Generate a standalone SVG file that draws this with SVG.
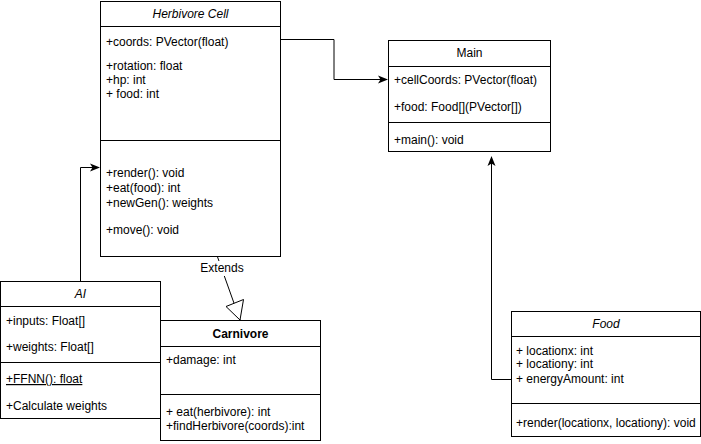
<svg xmlns="http://www.w3.org/2000/svg" width="701" height="444" viewBox="0 0 701 444">
<style>
.box{fill:#fff;stroke:#000;stroke-width:1}
.ln{stroke:#000;stroke-width:1;fill:none}
text{font-family:"Liberation Sans",Arial,Helvetica,sans-serif;font-size:12px;fill:#000}
.t{text-anchor:middle}
.i{font-style:italic}
.b{font-weight:bold}
</style>
<defs>
<marker id="arr" viewBox="0 0 10 10" refX="9" refY="5" markerWidth="10" markerHeight="10" markerUnits="userSpaceOnUse" orient="auto">
<path d="M0,1 L10,5 L0,9 L2.5,5 Z" fill="#000"/>
</marker>
</defs>
<rect width="701" height="444" fill="#fff"/>
<g id="connectors">
<path class="ln" d="M281,39.5 H334 V79.5 H387" marker-end="url(#arr)"/>
<path class="ln" d="M511,379.5 H491.5 V157" marker-end="url(#arr)"/>
<path class="ln" d="M80.5,281 V167.5 H99" marker-end="url(#arr)"/>
<path class="ln" d="M204,219 L240,320"/>
<path class="box" d="M240,320 L226,306.5 L243.5,299.5 Z"/>
<rect x="196" y="261" width="52" height="15" fill="#fff"/>
<text class="t" x="222" y="272">Extends</text>
</g>
<g id="herbivore">
<rect class="box" x="100.5" y="1.5" width="180" height="255"/>
<line class="ln" x1="100.5" y1="26.5" x2="280.5" y2="26.5"/>
<line class="ln" x1="100.5" y1="140.5" x2="280.5" y2="140.5"/>
<text class="t i" x="190.5" y="18">Herbivore Cell</text>
<text x="106" y="46">+coords: PVector(float)</text>
<text x="106" y="70">+rotation: float</text>
<text x="106" y="84">+hp: int</text>
<text x="106" y="98">+ food: int</text>
<text x="106" y="177">+render(): void</text>
<text x="106" y="192">+eat(food): int</text>
<text x="106" y="207">+newGen(): weights</text>
<text x="106" y="234">+move(): void</text>
</g>
<g id="main">
<rect class="box" x="388.5" y="40.5" width="162" height="111"/>
<line class="ln" x1="388.5" y1="66.5" x2="550.5" y2="66.5"/>
<line class="ln" x1="388.5" y1="122.5" x2="550.5" y2="122.5"/>
<text class="t" x="469.5" y="57">Main</text>
<text x="394" y="84">+cellCoords: PVector(float)</text>
<text x="394" y="111">+food: Food[](PVector[])</text>
<text x="394" y="144">+main(): void</text>
</g>
<g id="ai">
<rect class="box" x="0.5" y="281.5" width="160" height="137"/>
<line class="ln" x1="0.5" y1="306.5" x2="160.5" y2="306.5"/>
<line class="ln" x1="0.5" y1="362.5" x2="160.5" y2="362.5"/>
<text class="t i" x="80.5" y="298">AI</text>
<text x="6" y="325">+inputs: Float[]</text>
<text x="6" y="351">+weights: Float[]</text>
<text x="6" y="383" text-decoration="underline">+FFNN(): float</text>
<text x="6" y="410">+Calculate weights</text>
</g>
<g id="carnivore">
<rect class="box" x="160.5" y="320.5" width="160" height="120"/>
<line class="ln" x1="160.5" y1="346.5" x2="320.5" y2="346.5"/>
<line class="ln" x1="160.5" y1="394.5" x2="320.5" y2="394.5"/>
<text class="t b" x="240.5" y="338">Carnivore</text>
<text x="166" y="364">+damage: int</text>
<text x="166" y="416">+ eat(herbivore): int</text>
<text x="166" y="430">+findHerbivore(coords):int</text>
</g>
<g id="food">
<rect class="box" x="511.5" y="311.5" width="189" height="125"/>
<line class="ln" x1="511.5" y1="336.5" x2="700.5" y2="336.5"/>
<line class="ln" x1="511.5" y1="403.5" x2="700.5" y2="403.5"/>
<text class="t i" x="606" y="328">Food</text>
<text x="516" y="355">+ locationx: int</text>
<text x="516" y="368">+ locationy: int</text>
<text x="516" y="383">+ energyAmount: int</text>
<text x="516" y="427">+render(locationx, locationy): void</text>
</g>
</svg>
